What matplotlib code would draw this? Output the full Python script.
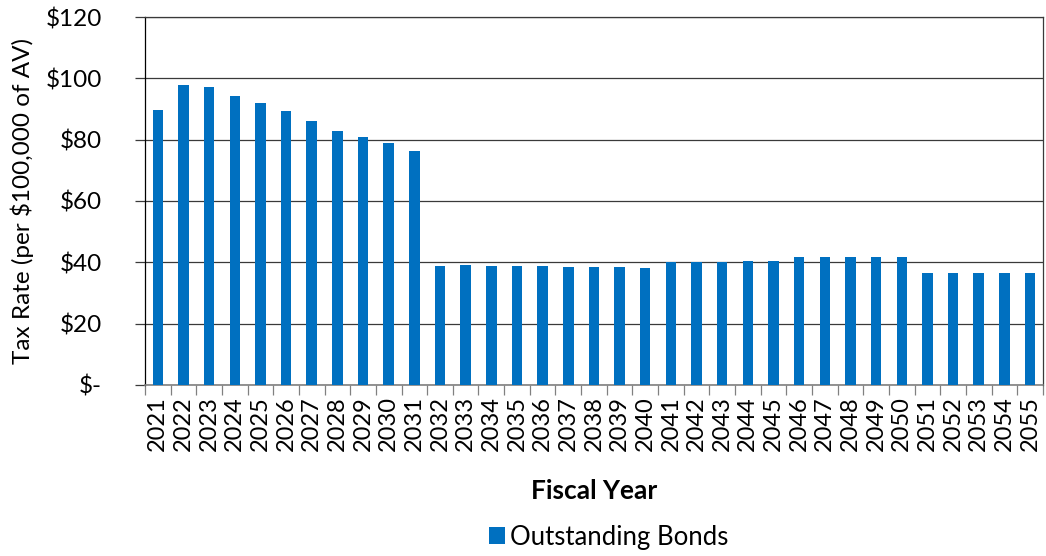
"""Tax rate for outstanding bonds by fiscal year."""
import matplotlib
matplotlib.use("Agg")
import matplotlib.pyplot as plt
import numpy as np

years = [str(y) for y in range(2021, 2056)]
outstanding_bonds = [
    89.6, 97.8, 97.1, 94.2, 91.9, 89.3, 86.1, 82.8, 80.8, 78.9, 76.2,
    38.9, 39.1, 38.9, 38.9, 38.7, 38.6, 38.5, 38.4, 38.3,
    40.1, 40.2, 40.2, 40.3, 40.4,
    41.8, 41.8, 41.8, 41.8, 41.8,
    36.4, 36.6, 36.5, 36.5, 36.5,
]
y_ticks = [0, 20, 40, 60, 80, 100, 120]
y_tick_labels = ["$-", "$20", "$40", "$60", "$80", "$100", "$120"]

BAR_COLOR = "#0070C0"
GRID_COLOR = "#3a3a3a"

plt.rcParams["font.family"] = ["Lato", "DejaVu Sans"]

fig = plt.figure(figsize=(10.46, 5.56), dpi=100)
ax = fig.add_axes([0.1386, 0.3076, 0.8584, 0.6618])

x = np.arange(len(years))
ax.bar(x, outstanding_bonds, width=0.41, color=BAR_COLOR, zorder=3,
       label="Outstanding Bonds")

ax.set_xlim(-0.5, len(years) - 0.5)
ax.set_ylim(0, 120)
ax.set_yticks(y_ticks)
ax.set_yticklabels(y_tick_labels, fontsize=17.5)
ax.yaxis.grid(True, color=GRID_COLOR, linewidth=0.9, zorder=0)
ax.tick_params(axis="y", length=7, width=0.9, pad=24, color=GRID_COLOR)

# category labels centred on bars, tick marks between categories
ax.set_xticks(x)
ax.set_xticklabels(years, rotation=90, fontsize=17)
ax.tick_params(axis="x", which="major", length=0, pad=8)
ax.set_xticks(np.arange(-0.5, len(years)), minor=True)
ax.tick_params(axis="x", which="minor", length=7, width=0.9, color="#808080")

for side in ("top", "right"):
    ax.spines[side].set_color(GRID_COLOR)
    ax.spines[side].set_linewidth(0.9)
ax.spines["left"].set_color("black")
ax.spines["left"].set_linewidth(0.9)
ax.spines["bottom"].set_color("#808080")
ax.spines["bottom"].set_linewidth(1.2)

ax.set_ylabel("Tax Rate (per $100,000 of AV)", fontsize=17.5, labelpad=8)
ax.set_xlabel("Fiscal Year", fontsize=19, fontweight="bold", labelpad=20)

fig.legend(loc="center", bbox_to_anchor=(0.582, 0.034), frameon=False,
           fontsize=18.5, handlelength=0.6, handleheight=0.6,
           handletextpad=0.2, borderaxespad=0)

fig.savefig("out.png", dpi=100)
